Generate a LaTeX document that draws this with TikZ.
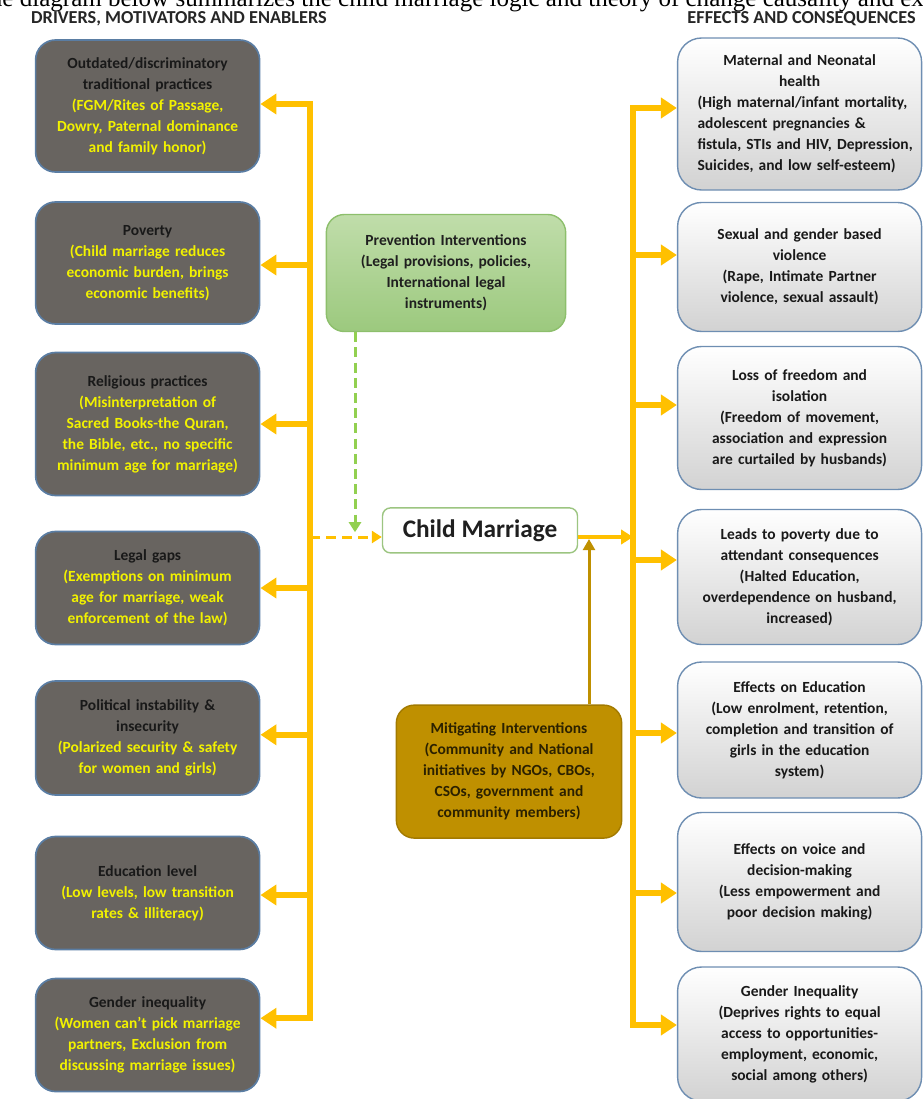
\documentclass[tikz,border=0pt]{standalone}
\usepackage{fontspec}
\setmainfont{Carlito}
\newfontfamily\capfont{Liberation Serif}
\usepackage{tikz}
\usetikzlibrary{arrows.meta,positioning,calc}

\definecolor{drvgray}{HTML}{686460}
\definecolor{drvborder}{HTML}{5A7DA3}
\definecolor{drvyellow}{HTML}{F2F200}
\definecolor{spineorange}{HTML}{FFC000}
\definecolor{prevtop}{HTML}{C0DDAA}
\definecolor{prevbot}{HTML}{9CC97E}
\definecolor{prevborder}{HTML}{8DBF6C}
\definecolor{dashgreen}{HTML}{92D050}
\definecolor{mitgold}{HTML}{BF9000}
\definecolor{mitborder}{HTML}{A27A00}
\definecolor{mittext}{HTML}{2B2100}
\definecolor{effborder}{HTML}{6E8EB2}
\definecolor{effgray}{HTML}{D2D2D2}
\definecolor{cmborder}{HTML}{9CC581}

\newcommand{\drvnote}[1]{\textcolor{drvyellow}{#1}}
\newcommand{\effline}[1]{\makebox[5.1cm][l]{#1}}

\begin{document}
\begin{tikzpicture}[
    font=\bfseries\fontsize{11}{14.9}\selectfont,
    >={Triangle[width=0.5cm,length=0.4cm]},
    driver/.style={
        draw=drvborder,
        line width=1.2pt,
        fill=drvgray,
        text=black!90,
        rounded corners=0.5cm,
        inner xsep=0.15cm,
        text width=5.3cm,
        minimum height=#1,
        align=center,
    },
    effect/.style={
        draw=effborder,
        line width=1pt,
        top color=white,
        bottom color=effgray,
        text=black!90,
        rounded corners=0.6cm,
        inner xsep=0.15cm,
        text width=5.8cm,
        minimum height=#1,
        align=center,
    },
    spine/.style={
        spineorange,
        line width=0.15cm,
    },
    heading/.style={
        font=\bfseries\fontsize{13}{14}\selectfont,
        text=black!85,
    },
]

\clip (0,0) rectangle (23.075,-27.475);
\useasboundingbox (0,0) rectangle (23.075,-27.475);

% caption line, cut by the page edge
\node[font=\capfont\fontsize{17.8}{18}\selectfont, anchor=base west, inner sep=0pt] (caption) at (-0.64,-0.15) {The diagram below summarizes the child marriage logic and theory of change causality and ex};

\node[heading] (drvhead) at (4.475,-0.47) {DRIVERS, MOTIVATORS AND ENABLERS};
\node[heading] (effhead) at (20.04,-0.47) {EFFECTS AND CONSEQUENCES};

% =========================================================
% drivers (left column)
% =========================================================
\node[driver=3.3cm]   (d1) at (3.69,-2.65)   {Outdated/discriminatory\\traditional practices\\\drvnote{(FGM/Rites of Passage,\\Dowry, Paternal dominance\\and family honor)}};
\node[driver=3.05cm]  (d2) at (3.69,-6.575)  {Poverty\\\drvnote{(Child marriage reduces\\economic burden, brings\\economic benefits)}};
\node[driver=3.575cm] (d3) at (3.69,-10.6)   {Religious practices\\\drvnote{(Misinterpretation of\\Sacred Books-the Quran,\\the Bible, etc., no specific\\minimum age for marriage)}};
\node[driver=2.825cm] (d4) at (3.69,-14.7)   {Legal gaps\\\drvnote{(Exemptions on minimum\\age for marriage, weak\\enforcement of the law)}};
\node[driver=2.85cm]  (d5) at (3.69,-18.45)  {Political instability \&\\insecurity\\\drvnote{(Polarized security \& safety\\for women and girls)}};
\node[driver=2.825cm] (d6) at (3.69,-22.325) {Education level\\\drvnote{(Low levels, low transition\\rates \& illiteracy)}};
\node[driver=2.825cm] (d7) at (3.69,-25.875) {Gender inequality\\\drvnote{(Women can’t pick marriage\\partners, Exclusion from\\discussing marriage issues)}};

% left spine and its arrows
\coordinate (lx) at (7.75,0);
\foreach \b/\s in {d1/0.05,d2/-0.05,d3/0,d4/0,d5/0.08,d6/-0.05,d7/0.42}
    \coordinate (a\b) at ($(\b.east)+(0,\s)$);
\draw[spine, line cap=rect] (lx |- ad1) -- (lx |- ad7);
\foreach \b in {d1,d2,d3,d4,d5,d6,d7}
    \draw[spine,->] (lx |- a\b) -- (a\b);

% =========================================================
% centre: interventions and child marriage
% =========================================================
\node[draw=prevborder, line width=1pt, top color=prevtop, bottom color=prevbot,
      rounded corners=0.45cm, text width=5.75cm, minimum height=2.925cm,
      align=center, text=black!88] (prev) at (11.15,-6.825)
      {Prevention Interventions\\(Legal provisions, policies,\\International legal\\instruments)};

\node[draw=cmborder, line width=1pt, fill=white, rounded corners=0.2cm,
      minimum width=4.875cm, minimum height=1.125cm,
      font=\bfseries\fontsize{18}{20}\selectfont, text=black!88] (cm) at (12.0,-13.26) {Child Marriage};

\node[draw=mitborder, line width=1pt, fill=mitgold, rounded corners=0.45cm,
      text width=5.4cm, minimum height=3.325cm, align=center,
      text=mittext] (mit) at (12.725,-19.29)
      {Mitigating Interventions\\(Community and National\\initiatives by NGOs, CBOs,\\CSOs, government and\\community members)};

% dashed links into child marriage
\coordinate (cmin) at ($(cm.west)+(0,-0.165)$);
\draw[spineorange, line width=0.075cm, dash pattern=on 0.25cm off 0.15cm,
      -{Triangle[width=0.3cm,length=0.25cm]}] (lx |- cmin) -- (cmin);
\coordinate (prevout) at ($(prev.south)+(-2.275,0)$);
\coordinate (prevend) at (prevout |- cmin);
\draw[dashgreen, line width=0.075cm, dash pattern=on 0.25cm off 0.13cm,
      -{Triangle[width=0.3cm,length=0.25cm]}] (prevout) -- ($(prevend)+(0,0.12)$);

% =========================================================
% effects (right column)
% =========================================================
\node[effect=3.8cm]   (r1) at (19.99,-2.85)   {Maternal and Neonatal\\health\\\effline{(High maternal/infant mortality,}\\\effline{adolescent pregnancies \&}\\\effline{fistula, STIs and HIV, Depression,}\\\effline{Suicides, and low self-esteem)}};
\node[effect=3.225cm] (r2) at (19.99,-6.675)  {Sexual and gender based\\violence\\(Rape, Intimate Partner\\violence, sexual assault)};
\node[effect=3.575cm] (r3) at (19.99,-10.45)  {Loss of freedom and\\isolation\\(Freedom of movement,\\association and expression\\are curtailed by husbands)};
\node[effect=3.375cm] (r4) at (19.99,-14.425) {Leads to poverty due to\\attendant consequences\\(Halted Education,\\overdependence on husband,\\increased)};
\node[effect=3.4cm]   (r5) at (19.99,-18.25)  {Effects on Education\\(Low enrolment, retention,\\completion and transition of\\girls in the education\\system)};
\node[effect=3.475cm] (r6) at (19.99,-22.05)  {Effects on voice and\\decision-making\\(Less empowerment and\\poor decision making)};
\node[effect=3.35cm]  (r7) at (19.99,-25.85)  {Gender Inequality\\(Deprives rights to equal\\access to opportunities-\\employment, economic,\\social among others)};

% right spine and its arrows
\coordinate (rx) at (15.825,0);
\foreach \b/\s in {r1/0.15,r2/0.3,r3/0.325,r4/0.425,r5/-0.075,r6/-0.275,r7/0.225}
    \coordinate (a\b) at ($(\b.west)+(0,\s)$);
\draw[spine, line cap=rect] (rx |- ar1) -- (rx |- ar7);
\foreach \b in {r1,r2,r3,r4,r5,r6,r7}
    \draw[spine,->] (rx |- a\b) -- (a\b);

% child marriage to the effects
\coordinate (cmout) at ($(cm.east)+(0,-0.165)$);
\draw[spineorange, line width=0.09cm, -{Triangle[width=0.36cm,length=0.3cm]}] (cmout) -- (rx |- cmout);

% mitigating interventions feed the outgoing line
\coordinate (mitout) at ($(mit.north)+(2.0,0)$);
\draw[mitgold, line width=0.075cm, -{Triangle[width=0.3cm,length=0.28cm]}] (mitout) -- ($(mitout |- cmout)+(0,-0.05)$);

\end{tikzpicture}
\end{document}
